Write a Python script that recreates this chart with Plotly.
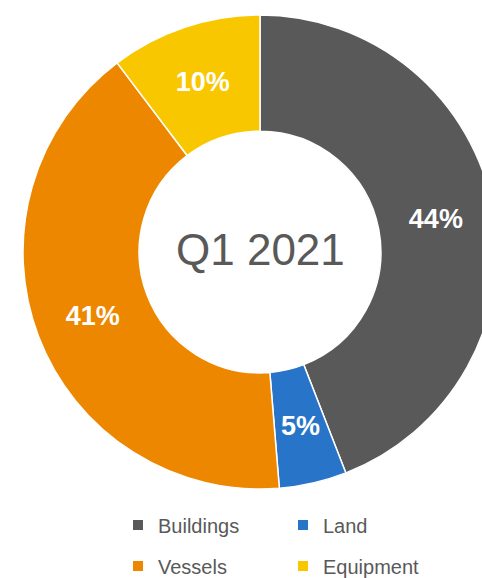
import math
import plotly.graph_objects as go

# asset mix, Q1 2021 (share of total, %)
LABELS = ["Buildings", "Land", "Vessels", "Equipment"]
SHARES = [44.1, 4.6, 41.0, 10.3]
COLORS = ["#595959", "#2874C8", "#EE8700", "#F8C700"]
CENTER_TEXT = "Q1 2021"

_TEXT = "#595959"
_FONT = "Liberation Sans, Arial, sans-serif"

# the figure is a bit larger than the 482x578 window: the ring is cut off on the
# right and the bottom legend row needs room below it without pushing margins
W, H = 520, 600
CX, CY, R = 260, 252, 237   # ring centre / outer radius, page px
HOLE = 0.51


def _py(px_from_top):
    """page pixel (from top) -> paper fraction"""
    return (H - px_from_top) / H


# plotly pushes the label of a thin slice out to the rim; the Land label is
# placed at mid-ring instead, like the others
SMALL = LABELS.index("Land")
templates = ["%{percent:.0%}" if i != SMALL else "" for i in range(len(LABELS))]

fig = go.Figure()
fig.add_trace(go.Pie(
    labels=LABELS,
    values=SHARES,
    sort=False,
    direction="clockwise",
    rotation=0,
    hole=HOLE,
    marker=dict(colors=COLORS, line=dict(color="white", width=1.5)),
    texttemplate=templates,
    textposition="inside",
    insidetextorientation="horizontal",
    textfont=dict(family=_FONT, size=27, color="white", weight="bold"),
    domain=dict(x=[(CX - R) / W, (CX + R) / W], y=[_py(CY + R), _py(CY - R)]),
    showlegend=False,
    hoverinfo="label+percent",
))

total = sum(SHARES)
mid = (sum(SHARES[:SMALL]) + SHARES[SMALL] / 2) / total * 2 * math.pi
r_mid = R * (1 + HOLE) / 2
fig.add_annotation(
    text=f"{SHARES[SMALL] / total:.0%}",
    x=(CX + r_mid * math.sin(mid)) / W, y=_py(CY - r_mid * math.cos(mid)),
    xref="paper", yref="paper", xanchor="center", yanchor="middle",
    showarrow=False,
    font=dict(family=_FONT, size=27, color="white", weight="bold"),
)
fig.add_annotation(
    text=CENTER_TEXT, x=CX / W, y=_py(CY - 3), xref="paper", yref="paper",
    xanchor="center", yanchor="middle", showarrow=False,
    font=dict(family=_FONT, size=44, color=_TEXT),
)

# legend entries, two per row (each row is its own legend so the spacing can match)
for i, (lab, col) in enumerate(zip(LABELS, COLORS)):
    fig.add_trace(go.Scatter(
        x=[None], y=[None], mode="markers", name=lab,
        marker=dict(symbol="square", size=10, color=col),
        legend="legend" if i < 2 else "legend2",
    ))

leg = dict(orientation="h", xanchor="left", yanchor="middle", x=118 / W,
           entrywidth=120, bgcolor="rgba(0,0,0,0)",
           font=dict(family=_FONT, size=20, color=_TEXT))

fig.update_layout(
    width=W,
    height=H,
    margin=dict(l=0, r=0, t=0, b=0),
    paper_bgcolor="white",
    plot_bgcolor="white",
    xaxis=dict(visible=False),
    yaxis=dict(visible=False),
    legend=dict(leg, y=_py(525)),
    legend2=dict(leg, y=_py(566)),
)

fig.write_html(
    "out.html",
    config={"displayModeBar": False},
    post_script="document.body.style.margin='0';document.body.style.overflow='hidden';",
)
